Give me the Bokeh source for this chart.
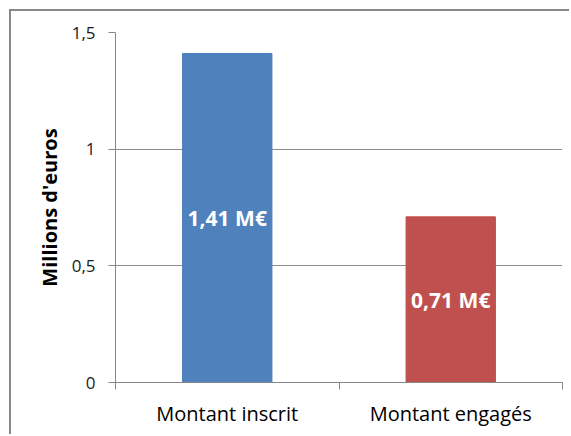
from bokeh.plotting import figure
from bokeh.models import ColumnDataSource, FixedTicker, Range1d, LabelSet
from bokeh.core.properties import value
from bokeh.embed import file_html
from bokeh.resources import INLINE

categories = ["Montant inscrit", "Montant engagés"]
values = [1.41, 0.71]
value_labels = ["1,41 M€", "0,71 M€"]
colors = ["#4F81BD", "#C0504D"]
y_ticks = [0, 0.5, 1, 1.5]
y_tick_labels = ["0", "0,5", "1", "1,5"]

FONT = "Open Sans"

xs = [i + 0.5 for i in range(len(categories))]
src = ColumnDataSource(dict(x=xs, top=values, mid=[v / 2 for v in values],
                            color=colors, label=value_labels))

p = figure(width=560, height=425, output_backend="svg", toolbar_location=None,
           x_range=Range1d(0, len(categories)), y_range=Range1d(0, 1.5),
           min_border_left=104, min_border_right=9, min_border_top=21,
           min_border_bottom=54,
           styles={"margin-left": "9px", "margin-top": "9px",
                   "border-left": "2px solid #888888", "border-top": "2px solid #888888"})
p.outline_line_color = None
p.background_fill_color = "white"
p.border_fill_color = "white"

p.vbar(x="x", top="top", bottom=0, width=0.4, color="color", source=src)

labels = LabelSet(x="x", y="mid", text="label", source=src, text_color="white",
                  text_font=value(FONT), text_font_style="bold", text_font_size="21px",
                  text_align="center", text_baseline="middle")
p.add_layout(labels)

# y axis
p.yaxis.ticker = FixedTicker(ticks=y_ticks)
p.yaxis.major_label_overrides = {t: l for t, l in zip(y_ticks, y_tick_labels)}
p.yaxis.axis_label = "Millions d'euros"
p.yaxis.axis_label_text_font = FONT
p.yaxis.axis_label_text_font_style = "bold"
p.yaxis.axis_label_text_font_size = "20px"
p.yaxis.axis_label_text_color = "black"
p.yaxis.axis_label_standoff = 6
p.yaxis.major_label_text_font = FONT
p.yaxis.major_label_text_font_size = "17px"
p.yaxis.major_label_text_color = "#1a1a1a"
p.yaxis.major_label_standoff = 13
p.yaxis.major_tick_out = 7
p.yaxis.major_tick_in = 0
p.yaxis.minor_tick_out = 0
p.yaxis.minor_tick_in = 0
p.yaxis.axis_line_color = "#868686"
p.yaxis.major_tick_line_color = "#868686"

# x axis
p.xaxis.ticker = FixedTicker(ticks=xs, minor_ticks=list(range(len(categories) + 1)))
p.xaxis.major_label_overrides = {x: c for x, c in zip(xs, categories)}
p.xaxis.major_label_text_font = FONT
p.xaxis.major_label_text_font_size = "20px"
p.xaxis.major_label_text_color = "black"
p.xaxis.major_label_standoff = 10
p.xaxis.major_tick_out = 0
p.xaxis.major_tick_in = 0
p.xaxis.minor_tick_out = 7
p.xaxis.minor_tick_in = 0
p.xaxis.axis_line_color = "#868686"
p.xaxis.minor_tick_line_color = "#868686"

p.xgrid.grid_line_color = None
p.ygrid.grid_line_color = "#8c8c8c"
p.ygrid.ticker = FixedTicker(ticks=y_ticks[1:])

open("out.html", "w").write(file_html(p, INLINE))
